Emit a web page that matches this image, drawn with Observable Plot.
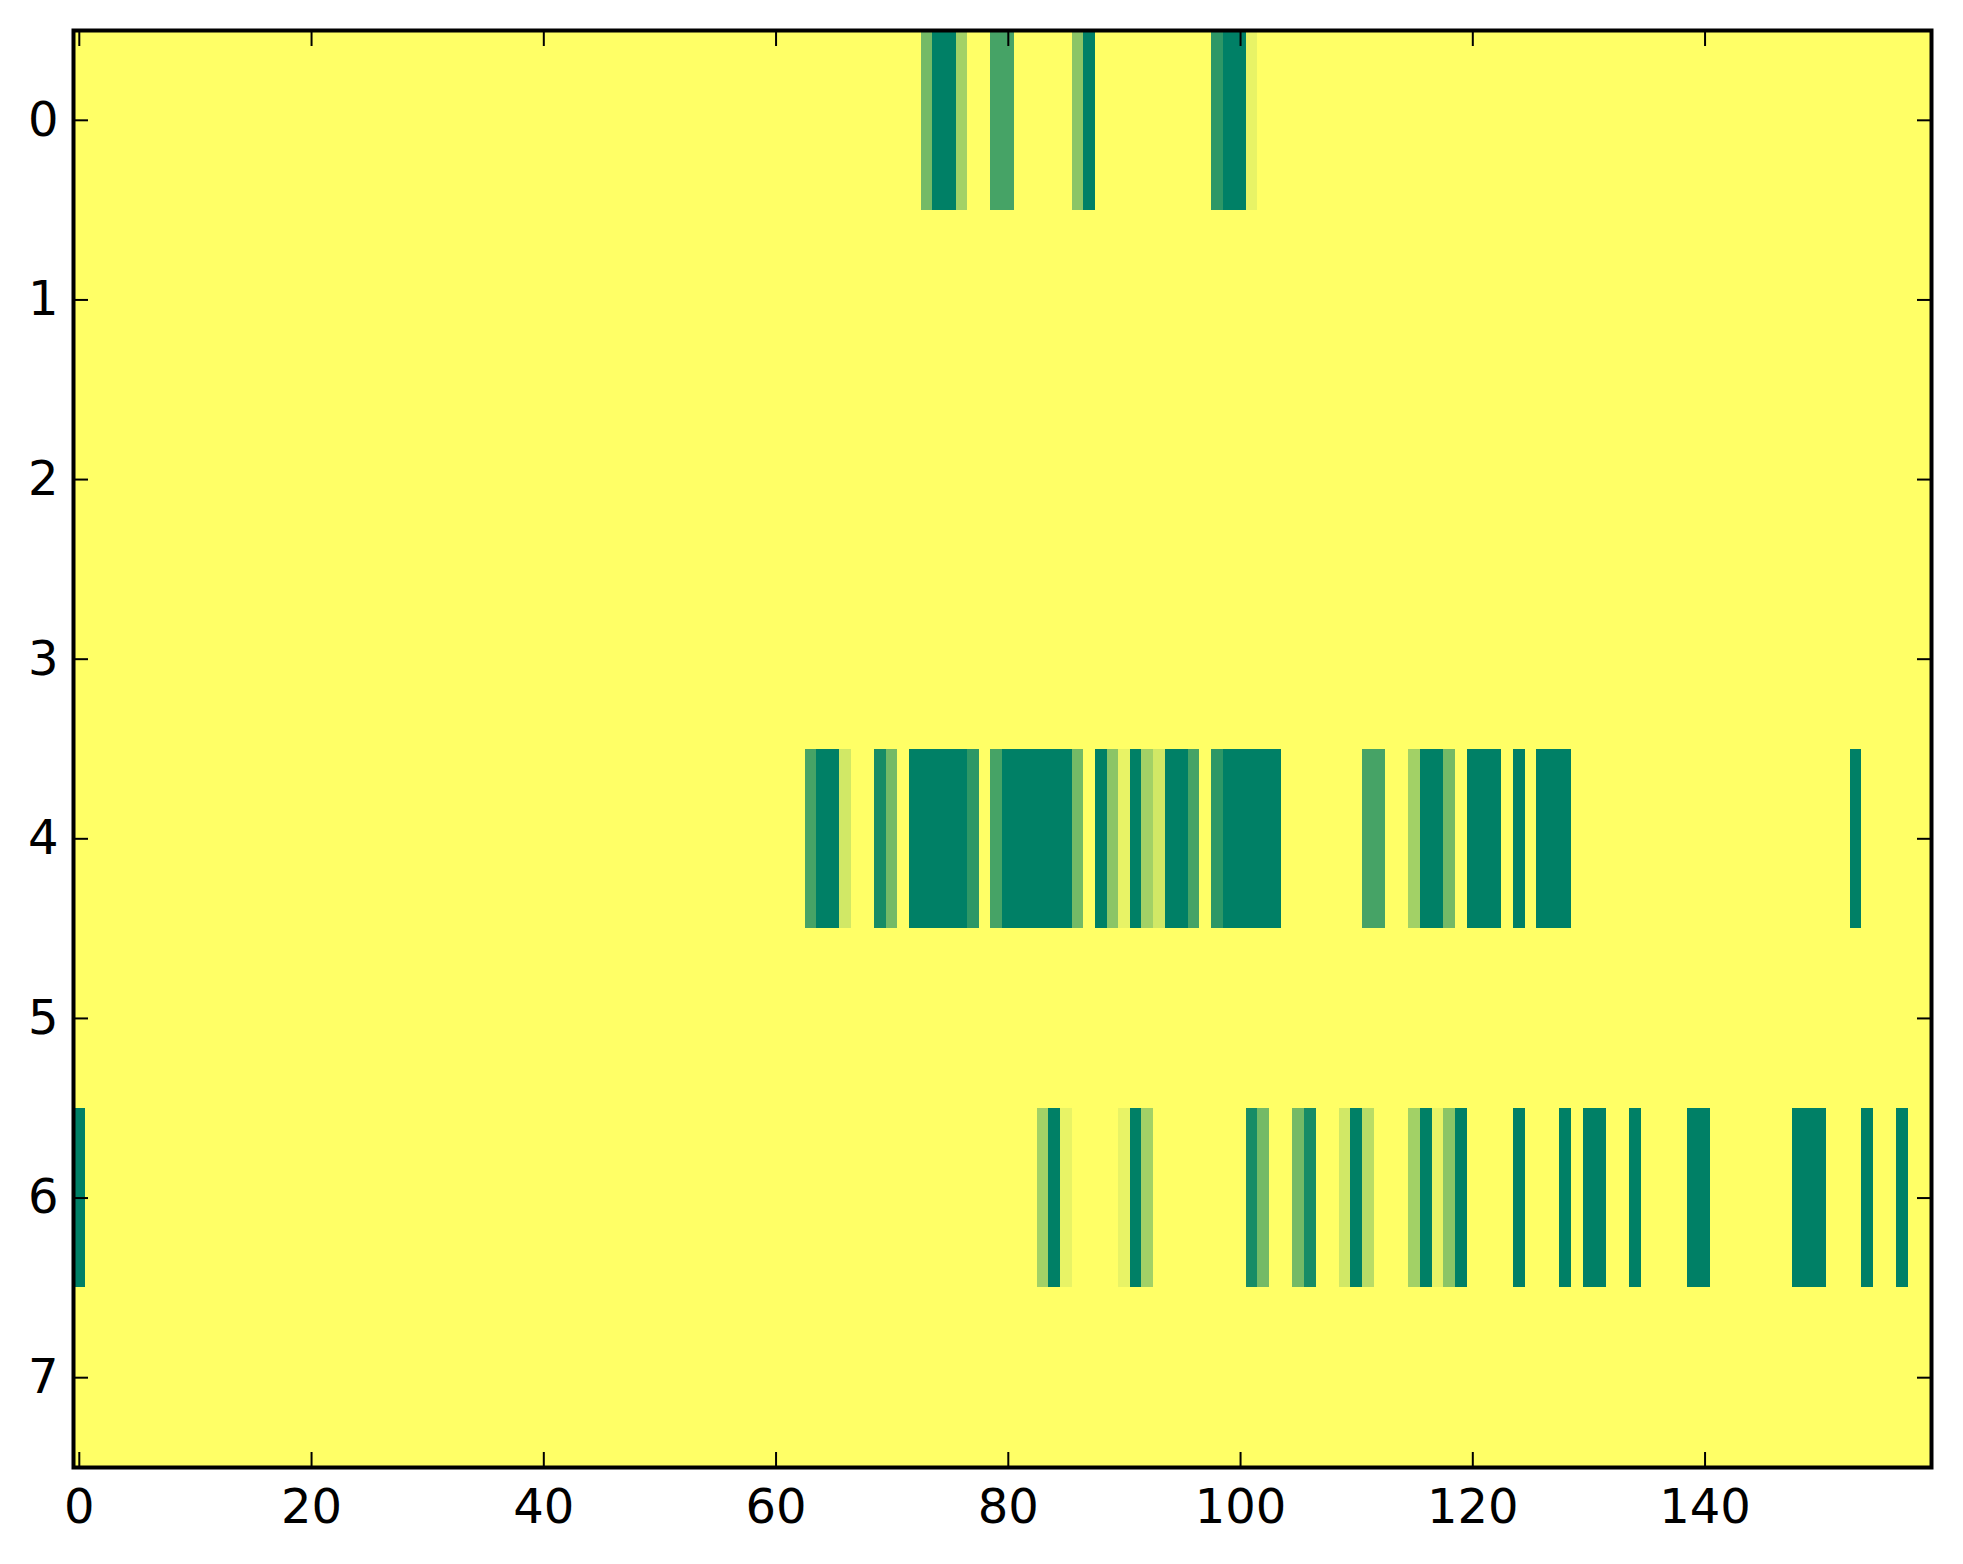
<!DOCTYPE html>
<html>
<head>
<meta charset="utf-8">
<script src="https://cdn.jsdelivr.net/npm/d3@7"></script>
<script src="https://cdn.jsdelivr.net/npm/@observablehq/plot@0.6"></script>
<style>
  html, body { margin: 0; padding: 0; background: #fff; }
  #chart svg { display: block; }
</style>
</head>
<body>
<div id="chart"></div>
<script>
// ---- data ----
const nCols = 160;
const rowLabels = [0, 1, 2, 3, 4, 5, 6, 7];
const xTicks = [0, 20, 40, 60, 80, 100, 120, 140];
// [column, value] pairs of non-zero cells (values on a 0..11 scale)
const row0 = [[73,6],[74,11],[75,11],[76,4],[79,8],[80,8],[86,5],[87,11],[98,9],[99,11],[100,11],[101,1]];
const row4 = [[63,8],[64,11],[65,11],[66,2],[69,10],[70,6],[72,11],[73,11],[74,11],[75,11],[76,11],[77,9],[79,8],
  [80,11],[81,11],[82,11],[83,11],[84,11],[85,11],[86,6],[88,11],[89,5],[90,1],[91,11],[92,4],[93,2],[94,11],[95,11],
  [96,8],[98,9],[99,11],[100,11],[101,11],[102,11],[103,11],[111,8],[112,8],[115,4],[116,11],[117,11],[118,6],
  [120,11],[121,11],[122,11],[124,11],[126,11],[127,11],[128,11],[153,11]];
const row6 = [[0,11],[83,4],[84,11],[85,1],[90,1],[91,11],[92,4],[101,10],[102,6],[105,6],[106,10],[109,2],[110,11],
  [111,3],[115,4],[116,11],[117,1],[118,5],[119,11],[124,11],[128,11],[130,11],[131,11],[134,11],[139,11],[140,11],
  [148,11],[149,11],[150,11],[154,11],[157,11]];
const rowPairs = {0: row0, 4: row4, 6: row6};
const vMax = 11;

// ---- build table ----
const cells = [];
for (const r of rowLabels) {
  const m = new Map(rowPairs[r] || []);
  for (let c = 0; c < nCols; c++) cells.push({r, c, v: m.get(c) || 0});
}

const W = 1963, H = 1564;
const chart = Plot.plot({
  width: W,
  height: H,
  marginLeft: 73,
  marginRight: 32,
  marginTop: 30,
  marginBottom: 97,
  style: {fontFamily: "DejaVu Sans", background: "#fff", color: "#000"},
  x: {type: "linear", domain: [-0.5, nCols - 0.5]},
  y: {type: "linear", domain: [rowLabels.length - 0.5, -0.5]},
  color: {type: "linear", domain: [0, vMax], range: ["#ffff66", "#008066"], interpolate: "rgb"},
  marks: [
    Plot.rect(cells, {
      x1: d => d.c - 0.5, x2: d => d.c + 0.5,
      y1: d => d.r - 0.5, y2: d => d.r + 0.5,
      fill: "v", shapeRendering: "crispEdges"
    }),
    // tick labels
    Plot.axisX(xTicks, {anchor: "bottom", tickSize: 0, tickPadding: 21, fontSize: 48, label: null, tickFormat: d => String(d)}),
    Plot.axisY(rowLabels, {anchor: "left", tickSize: 0, tickPadding: 15, fontSize: 48, label: null, tickFormat: d => String(d)}),
    // inward ticks on all four sides
    Plot.axisX(xTicks, {anchor: "bottom", tickSize: -15, strokeWidth: 2, tickFormat: () => "", label: null}),
    Plot.axisX(xTicks, {anchor: "top", tickSize: -15, strokeWidth: 2, tickFormat: () => "", label: null}),
    Plot.axisY(rowLabels, {anchor: "left", tickSize: -15, strokeWidth: 2, tickFormat: () => "", label: null}),
    Plot.axisY(rowLabels, {anchor: "right", tickSize: -15, strokeWidth: 2, tickFormat: () => "", label: null}),
    Plot.frame({stroke: "#000", strokeWidth: 4})
  ]
});
document.getElementById("chart").appendChild(chart);
</script>
</body>
</html>
